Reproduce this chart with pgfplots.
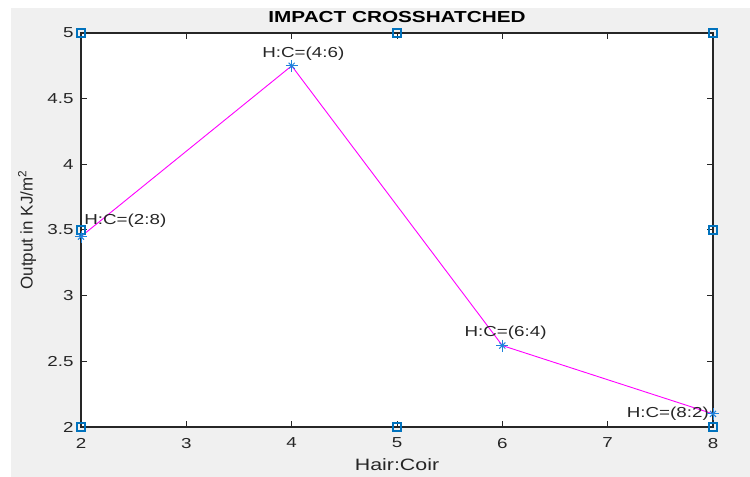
\documentclass[border=0pt]{standalone}
\usepackage{fontspec}
\setmainfont{Liberation Sans}
\newfontfamily\wide{Liberation Sans}[FakeStretch=1.3]
\usepackage{pgfplots}
\pgfplotsset{compat=1.18}
\definecolor{figbg}{HTML}{F0F0F0}
\definecolor{axc}{HTML}{262626}
\definecolor{mblue}{HTML}{0072BD}
\definecolor{ablue}{RGB}{30,130,220}
\definecolor{mag}{HTML}{FF00FF}
\begin{document}
\begin{tikzpicture}[x=1bp,y=1bp]
\fill[white] (0,0) rectangle (750,477);
\fill[figbg] (11,0) rectangle (750,469);
\begin{axis}[
  at={(81bp,50bp)}, anchor=south west,
  width=632bp, height=394bp, scale only axis,
  xmin=2, xmax=8, ymin=2, ymax=5,
  xtick={2,3,4,5,6,7,8}, ytick={2,2.5,3,3.5,4,4.5,5},
  axis background/.style={fill=white},
  axis line style={axc, line width=1.2bp},
  tick style={axc, line width=1bp},
  major tick length=6bp,
  tick align=inside,
  /pgf/number format/assume math mode=true,
  ticklabel style={font=\wide\fontsize{14.5}{16}\selectfont, text=axc},
  xticklabel style={yshift=-7.5bp},
  yticklabel style={xshift=-4bp},
  every axis title shift=0pt,
  title={IMPACT CROSSHATCHED},
  title style={font=\wide\bfseries\fontsize{16}{18}\selectfont, text=black, at={(axis description cs:0.5,1.0406)}, anchor=center},
  xlabel={Hair:Coir},
  xlabel style={font=\wide\fontsize{16.5}{18}\selectfont, text=axc, at={(axis description cs:0.5,-0.0964)}, anchor=center},
  ylabel={Output in KJ/m\textsuperscript{2}},
  ylabel style={font=\fontsize{17}{19}\selectfont, text=axc, at={(axis description cs:-0.0854,0.5)}, anchor=center},
  clip=false,
]
\addplot[only marks, mark=square, mark size=4.2bp, mblue, mark options={mblue, line width=1.8bp}]
  coordinates {(2,5)(2,3.5)(2,2)(5,5)(5,2)(8,5)(8,3.5)(8,2)};
\addplot[mag, line width=0.9bp, mark=+, mark size=6bp, mark options={ablue, line width=1bp}]
  coordinates {(2,3.45)(4,4.75)(6,2.62)(8,2.1)};
\addplot[only marks, mark=x, mark size=4.3bp, mark options={ablue, line width=1bp}]
  coordinates {(2,3.45)(4,4.75)(6,2.62)(8,2.1)};
\node[anchor=west, inner sep=0, font=\wide\fontsize{14.5}{16}\selectfont, text=black!85] at (axis cs:2.03,3.57) {H:C=(2:8)};
\node[anchor=west, inner sep=0, font=\wide\fontsize{14.5}{16}\selectfont, text=black!85] at (axis cs:3.72,4.84) {H:C=(4:6)};
\node[anchor=west, inner sep=0, font=\wide\fontsize{14.5}{16}\selectfont, text=black!85] at (axis cs:5.64,2.72) {H:C=(6:4)};
\node[anchor=west, inner sep=0, font=\wide\fontsize{14.5}{16}\selectfont, text=black!85] at (axis cs:7.18,2.10) {H:C=(8:2)};
\end{axis}
\end{tikzpicture}
\end{document}
